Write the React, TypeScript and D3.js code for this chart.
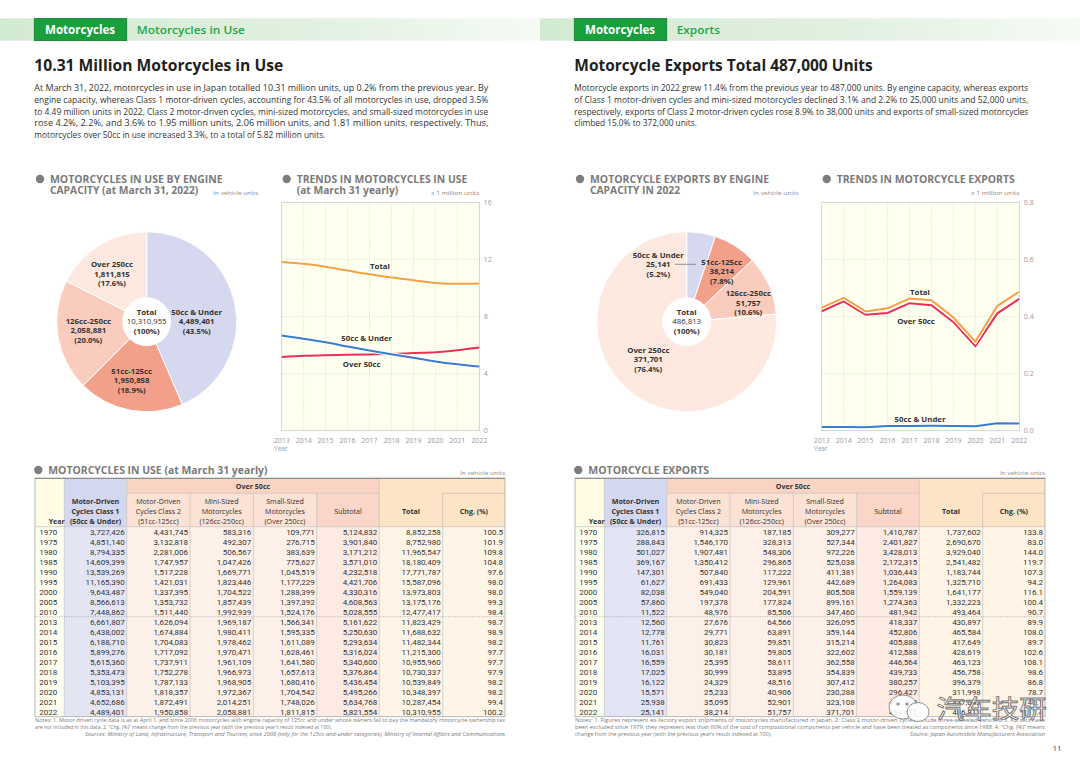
import * as d3 from "d3";

const FONT = "'Open Sans', 'Noto Sans', sans-serif";
const NUM_FONT = "'Liberation Sans Narrow', 'Roboto', 'Open Sans', sans-serif";

// ---- data ----
const tableYears = [1970, 1975, 1980, 1985, 1990, 1995, 2000, 2005, 2010, 2013, 2014, 2015, 2016, 2017, 2018, 2019, 2020, 2021, 2022];

const useClass1 = [3727426, 4851140, 8794335, 14609399, 13539269, 11165390, 9643487, 8566613, 7448862, 6661807, 6438002, 6188710, 5899276, 5615360, 5353473, 5103395, 4853131, 4652686, 4489401];
const useClass2 = [4431745, 3132818, 2281006, 1747957, 1517228, 1421031, 1337395, 1353732, 1511440, 1626094, 1674884, 1704083, 1717092, 1737911, 1752278, 1787133, 1818357, 1872491, 1950858];
const useMini = [583316, 492307, 506567, 1047426, 1669771, 1823446, 1704522, 1857439, 1992939, 1969187, 1980411, 1978462, 1970471, 1961109, 1966973, 1968905, 1972367, 2014251, 2058881];
const useSmall = [109771, 276715, 383639, 775627, 1045519, 1177229, 1288399, 1397392, 1524176, 1566341, 1595335, 1611089, 1628461, 1641580, 1657613, 1680416, 1704542, 1748026, 1811815];
const useSubtotal = [5124832, 3901840, 3171212, 3571010, 4232518, 4421706, 4330316, 4608563, 5028555, 5161622, 5250630, 5293634, 5316024, 5340600, 5376864, 5436454, 5495266, 5634768, 5821554];
const useTotal = [8852258, 8752980, 11965547, 18180409, 17771787, 15587096, 13973803, 13175176, 12477417, 11823429, 11688632, 11482344, 11215300, 10955960, 10730337, 10539849, 10348397, 10287454, 10310955];
const useChg = [100.5, 101.9, 109.8, 104.8, 97.6, 98.0, 98.0, 99.3, 98.4, 98.7, 98.9, 98.2, 97.7, 97.7, 97.9, 98.2, 98.2, 99.4, 100.2];

const expClass1 = [326815, 288843, 501027, 369167, 147301, 61627, 82038, 57860, 11522, 12560, 12778, 11761, 16031, 16559, 17025, 16122, 15571, 25938, 25141];
const expClass2 = [914325, 1546170, 1907481, 1350412, 507840, 691433, 549040, 197378, 48976, 27676, 29771, 30823, 30181, 25395, 30999, 24329, 25233, 35095, 38214];
const expMini = [187185, 328313, 548306, 296865, 117222, 129961, 204591, 177824, 85506, 64566, 63891, 59851, 59805, 58611, 53895, 48516, 40906, 52901, 51757];
const expSmall = [309277, 527344, 972226, 525038, 411381, 442689, 805508, 899161, 347460, 326095, 359144, 315214, 322602, 362558, 354839, 307412, 230288, 323108, 371701];
const expSubtotal = [1410787, 2401827, 3428013, 2172315, 1036443, 1264083, 1559139, 1274363, 481942, 418337, 452806, 405888, 412588, 446564, 439733, 380257, 296427, 411104, 461672];
const expTotal = [1737602, 2690670, 3929040, 2541482, 1183744, 1325710, 1641177, 1332223, 493464, 430897, 465584, 417649, 428619, 463123, 456758, 396379, 311998, 437042, 486813];
const expChg = [133.8, 83.0, 144.0, 119.7, 107.3, 94.2, 116.1, 100.4, 90.7, 89.9, 108.0, 89.7, 102.6, 108.1, 98.6, 86.8, 78.7, 140.1, 111.4];

const trendYears = tableYears.slice(9);
const pieCategories = ["50cc & Under", "51cc-125cc", "126cc-250cc", "Over 250cc"];
const pieColors = ["#d5d8ef", "#f2a08a", "#f9ccbe", "#fde9df"];
const useTicks = [0, 4, 8, 12, 16];
const expTicks = [0, 0.2, 0.4, 0.6, 0.8];

const leftText = [
  "At March 31, 2022, motorcycles in use in Japan totalled 10.31 million units, up 0.2% from the previous year.  By",
  "engine capacity, whereas Class 1 motor-driven cycles, accounting for 43.5% of all motorcycles in use, dropped 3.5%",
  "to 4.49 million units in 2022, Class 2 motor-driven cycles, mini-sized motorcycles, and small-sized motorcycles in use",
  "rose 4.2%, 2.2%, and 3.6% to 1.95 million units, 2.06 million units, and 1.81 million units, respectively.  Thus,",
  "motorcycles over 50cc in use increased 3.3%, to a total of 5.82 million units.",
];
const rightText = [
  "Motorcycle exports in 2022 grew 11.4% from the previous year to 487,000 units.  By engine capacity, whereas exports",
  "of Class 1 motor-driven cycles and mini-sized motorcycles declined 3.1% and 2.2% to 25,000 units and 52,000 units,",
  "respectively, exports of Class 2 motor-driven cycles rose 8.9% to 38,000 units and exports of small-sized motorcycles",
  "climbed 15.0% to 372,000 units.",
];

const fmt = d3.format(",");
const fmt1 = d3.format(".1f");

function Header({ x0, sub, subLen }: { x0: number; sub: string; subLen: number }) {
  return (
    <g>
      <rect x={x0} y={18.3} width={540} height={22.4} fill={`url(#band${x0})`} />
      <linearGradient id={`band${x0}`} x1="0" x2="1" y1="0" y2="0">
        <stop offset="0" stopColor="#d3ead2" />
        <stop offset="0.6" stopColor="#e2f1e1" />
        <stop offset="1" stopColor="#f6fbf5" />
      </linearGradient>
      <rect x={x0 + 34.3} y={18.6} width={92.4} height={22} fill="#17a03c" stroke="#0e7c2c" strokeWidth={0.8} />
      <text x={x0 + 45} y={33.8} fill="#fff" fontFamily={FONT} fontWeight={700} fontSize={11.5} textLength={70} lengthAdjust="spacingAndGlyphs">Motorcycles</text>
      <text x={x0 + 136.7} y={33.8} fill="#1fa547" fontFamily={FONT} fontWeight={600} fontSize={11.5} textLength={subLen} lengthAdjust="spacingAndGlyphs">{sub}</text>
    </g>
  );
}

function Paragraph({ x, lines, lastLen }: { x: number; lines: string[]; lastLen: number }) {
  return (
    <g fontFamily={FONT} fontSize={8.1} fill="#333">
      {lines.map((l, i) => (
        <text key={i} x={x} y={91 + i * 11.8} textLength={i === lines.length - 1 ? lastLen : 454} lengthAdjust="spacingAndGlyphs">{l}</text>
      ))}
    </g>
  );
}

function SectionTitle({ x, y, lines, lens, note, noteX, noteY, noteLen }: any) {
  return (
    <g>
      <circle cx={x} cy={y - 3.6} r={4.2} fill="#7d7d7d" />
      {lines.map((l: string, i: number) => (
        <text key={i} x={x + 10} y={y + i * 11.3} fontFamily={FONT} fontWeight={700} fontSize={10} fill="#7a7a7a" textLength={lens[i]} lengthAdjust="spacingAndGlyphs">{l}</text>
      ))}
      {note && (
        <text x={noteX} y={noteY} fontFamily={FONT} fontSize={5.6} fill="#888" textLength={noteLen} lengthAdjust="spacingAndGlyphs">{note}</text>
      )}
    </g>
  );
}

type LabelPos = { x: number; y: number };

function Pie({ cx, cy, values, pos, totalPos, leader }: { cx: number; cy: number; values: number[]; pos: LabelPos[]; totalPos: LabelPos; leader?: number[] }) {
  const total = d3.sum(values);
  const arcs = d3.pie<number>().sort(null).value((d) => d)(values);
  const arc = d3.arc<d3.PieArcDatum<number>>().innerRadius(24).outerRadius(90);
  const lh = 9.6;
  return (
    <g>
      <g transform={`translate(${cx},${cy})`}>
        {arcs.map((a, i) => (
          <path key={i} d={arc(a) || ""} fill={pieColors[i]} stroke="#fff" strokeWidth={1} />
        ))}
      </g>
      {leader && <line x1={leader[0]} y1={leader[1]} x2={leader[2]} y2={leader[3]} stroke="#777" strokeWidth={0.8} />}
      <g fontFamily={FONT} fontSize={7.8} fill="#333" textAnchor="middle" fontWeight={700}>
        {values.map((v, i) => (
          <g key={i}>
            <text x={pos[i].x} y={pos[i].y + 2.8}>{pieCategories[i]}</text>
            <text x={pos[i].x} y={pos[i].y + 2.8 + lh}>{fmt(v)}</text>
            <text x={pos[i].x} y={pos[i].y + 2.8 + 2 * lh}>({fmt1((v / total) * 100)}%)</text>
          </g>
        ))}
        <text x={totalPos.x} y={totalPos.y + 2.8}>Total</text>
        <text x={totalPos.x} y={totalPos.y + 2.8 + lh} fontWeight={400}>{fmt(total)}</text>
        <text x={totalPos.x} y={totalPos.y + 2.8 + 2 * lh}>(100%)</text>
      </g>
    </g>
  );
}

type Series = { name: string; values: number[]; color: string; lx: number; ly: number };

function Trend({ x0, x1, ticks, series, curve, tickFmt }: { x0: number; x1: number; ticks: number[]; series: Series[]; curve: d3.CurveFactory; tickFmt: (v: number) => string }) {
  const yTop = 202.3;
  const yBot = 430.7;
  const x = d3.scaleLinear().domain([trendYears[0], trendYears[trendYears.length - 1]]).range([x0, x1]);
  const y = d3.scaleLinear().domain([ticks[0], ticks[ticks.length - 1]]).range([yBot, yTop]);
  const line = d3
    .line<number>()
    .x((_d, i) => x(trendYears[i]))
    .y((d) => y(d))
    .curve(curve);
  return (
    <g>
      <rect x={x0} y={yTop} width={x1 - x0} height={yBot - yTop} fill="#fffff0" stroke="#c4c4c4" strokeWidth={0.7} />
      {trendYears.slice(1, -1).map((yr) => (
        <line key={yr} x1={x(yr)} x2={x(yr)} y1={yTop} y2={yBot} stroke="#b8b8b8" strokeWidth={0.5} strokeDasharray="1,1.5" />
      ))}
      {ticks.slice(1, -1).map((t) => (
        <line key={t} x1={x0} x2={x1} y1={y(t)} y2={y(t)} stroke="#b8b8b8" strokeWidth={0.5} strokeDasharray="1,1.5" />
      ))}
      {ticks.map((t) => (
        <text key={t} x={x1 + 4.5} y={y(t) + 2.4} fontFamily={FONT} fontSize={7} fill="#9a9a9a">{tickFmt(t)}</text>
      ))}
      {trendYears.map((yr) => (
        <text key={yr} x={x(yr)} y={443} textAnchor="middle" fontFamily={FONT} fontSize={7} fill="#9a9a9a">{yr}</text>
      ))}
      <text x={x0 - 7.7} y={451} fontFamily={FONT} fontSize={6.5} fill="#9a9a9a">Year</text>
      {series.map((s) => (
        <g key={s.name}>
          <path d={line(s.values) || ""} fill="none" stroke="#fff" strokeWidth={4} />
          <path d={line(s.values) || ""} fill="none" stroke={s.color} strokeWidth={2} />
        </g>
      ))}
      {series.map((s) => (
        <text key={s.name} x={s.lx} y={s.ly + 2.7} textAnchor="middle" fontFamily={FONT} fontWeight={700} fontSize={7.8} fill="#333">{s.name}</text>
      ))}
    </g>
  );
}

function DataTable({ x0, cols }: { x0: number; cols: number[][] }) {
  const edges = [35, 64.3, 126.7, 190, 253.3, 316.7, 379.3, 442.7, 505].map((e) => e + x0);
  const top = 478.3;
  const mid = 493.3;
  const hb = 526.7;
  const rowH = 10;
  const bottom = hb + tableYears.length * rowH;
  const rowY = d3.scaleLinear().domain([0, tableYears.length]).range([hb, bottom]);
  const bodyFills = ["#fffff0", "#e3e5f4", "#fdf0e9", "#fdf0e9", "#fdf0e9", "#fdeae2", "#fff5e7", "#fff5e7"];
  const headLines = [
    ["Motor-Driven", "Cycles Class 1", "(50cc & Under)"],
    ["Motor-Driven", "Cycles Class 2", "(51cc-125cc)"],
    ["Mini-Sized", "Motorcycles", "(126cc-250cc)"],
    ["Small-Sized", "Motorcycles", "(Over 250cc)"],
  ];
  const hy = [504.3, 514.1, 523.6];
  return (
    <g>
      {/* body fills */}
      {bodyFills.map((f, i) => (
        <rect key={i} x={edges[i]} y={hb} width={edges[i + 1] - edges[i]} height={bottom - hb} fill={f} />
      ))}
      {/* header fills */}
      <rect x={edges[0]} y={top} width={edges[1] - edges[0]} height={hb - top} fill="#fffbe4" />
      <rect x={edges[1]} y={top} width={edges[2] - edges[1]} height={hb - top} fill="#d3d7ef" />
      <rect x={edges[2]} y={top} width={edges[6] - edges[2]} height={mid - top} fill="#f9d3c3" />
      <rect x={edges[2]} y={mid} width={edges[5] - edges[2]} height={hb - mid} fill="#fce1d5" />
      <rect x={edges[5]} y={mid} width={edges[6] - edges[5]} height={hb - mid} fill="#fad6c8" />
      <rect x={edges[6]} y={top} width={edges[8] - edges[6]} height={hb - top} fill="#fde4c6" />
      {/* grid */}
      <g stroke="#b9b9b9" strokeWidth={0.6}>
        <line x1={edges[2]} x2={edges[6]} y1={mid} y2={mid} />
        <line x1={edges[7]} x2={edges[8]} y1={mid} y2={mid} />
        <line x1={edges[0]} x2={edges[8]} y1={hb} y2={hb} />
        {edges.slice(1, -1).map((e, i) => {
          const idx = i + 1;
          const startMid = idx === 3 || idx === 4 || idx === 5 || idx === 7;
          return <line key={idx} x1={e} x2={e} y1={startMid ? mid : top} y2={bottom} />;
        })}
        <line x1={edges[0]} x2={edges[8]} y1={rowY(9)} y2={rowY(9)} strokeDasharray="1.2,1.2" stroke="#999" />
      </g>
      <rect x={edges[0]} y={top} width={edges[8] - edges[0]} height={bottom - top} fill="none" stroke="#a8a8a8" strokeWidth={0.8} />
      <line x1={edges[0]} x2={edges[8]} y1={top} y2={top} stroke="#8f8f8f" strokeWidth={1.2} />
      {/* header text */}
      <g fontFamily={FONT} fontSize={7.1} fill="#333" textAnchor="middle">
        <text x={(edges[2] + edges[6]) / 2} y={488.6} fontWeight={700}>Over 50cc</text>
        <text x={edges[0] + 21.7} y={hy[2]} fontWeight={700}>Year</text>
        {headLines.map((hl, i) =>
          hl.map((t, j) => (
            <text key={`${i}-${j}`} x={(edges[i + 1] + edges[i + 2]) / 2} y={hy[j]} fontWeight={i === 0 ? 700 : 400}>{t}</text>
          ))
        )}
        <text x={(edges[5] + edges[6]) / 2} y={514.1}>Subtotal</text>
        <text x={(edges[6] + edges[7]) / 2} y={514.1} fontWeight={700}>Total</text>
        <text x={(edges[7] + edges[8]) / 2} y={514.1} fontWeight={700}>Chg. (%)</text>
      </g>
      {/* body text */}
      <g fontFamily={NUM_FONT} fontSize={8} fill="#333">
        {tableYears.map((yr, r) => {
          const by = rowY(r) + rowH / 2 + 2.9;
          return (
            <g key={yr}>
              <text x={(edges[0] + edges[1]) / 2 - 1.5} y={by} textAnchor="middle">{yr}</text>
              {cols.map((c, ci) => (
                <text key={ci} x={edges[ci + 2] - 2} y={by} textAnchor="end">{ci === 6 ? fmt1(c[r]) : fmt(c[r])}</text>
              ))}
            </g>
          );
        })}
      </g>
    </g>
  );
}

export default function App() {
  const useCols = [useClass1, useClass2, useMini, useSmall, useSubtotal, useTotal, useChg];
  const expCols = [expClass1, expClass2, expMini, expSmall, expSubtotal, expTotal, expChg];
  const last = tableYears.length - 1;
  const toM = (a: number[]) => a.slice(9).map((v) => v / 1e6);
  return (
    <svg width={1080} height={764} viewBox="0 0 1080 764" style={{ position: "absolute", left: 0, top: 0, background: "#fff" }}>
      <rect width={1080} height={764} fill="#fff" />
      <Header x0={0} sub="Motorcycles in Use" subLen={108.3} />
      <Header x0={540} sub="Exports" subLen={43.3} />

      <text x={34.3} y={70.5} fontFamily={FONT} fontWeight={700} fontSize={16.5} fill="#231f20" textLength={249} lengthAdjust="spacingAndGlyphs">10.31 Million Motorcycles in Use</text>
      <text x={574.3} y={70.5} fontFamily={FONT} fontWeight={700} fontSize={16.5} fill="#231f20" textLength={298.4} lengthAdjust="spacingAndGlyphs">Motorcycle Exports Total 487,000 Units</text>

      <Paragraph x={34.3} lines={leftText} lastLen={291} />
      <Paragraph x={574.3} lines={rightText} lastLen={122.7} />

      <SectionTitle x={40} y={182.6} lines={["MOTORCYCLES IN USE BY ENGINE", "CAPACITY (at March 31, 2022)"]} lens={[172.7, 148.3]} note="In vehicle units" noteX={213.3} noteY={194.6} noteLen={45} />
      <SectionTitle x={286.7} y={182.6} lines={["TRENDS IN MOTORCYCLES IN USE", "(at March 31 yearly)"]} lens={[170.6, 101.6]} note="x 1 million units" noteX={431} noteY={194.6} noteLen={48.3} />
      <SectionTitle x={580} y={182.6} lines={["MOTORCYCLE EXPORTS BY ENGINE", "CAPACITY IN 2022"]} lens={[179, 90]} note="In vehicle units" noteX={753.3} noteY={194.6} noteLen={45} />
      <SectionTitle x={826.7} y={182.6} lines={["TRENDS IN MOTORCYCLE EXPORTS"]} lens={[178]} note="x 1 million units" noteX={971} noteY={194.6} noteLen={48.3} />

      <Pie
        cx={146.7}
        cy={321.7}
        values={[useClass1[last], useClass2[last], useMini[last], useSmall[last]]}
        pos={[{ x: 196.7, y: 311.7 }, { x: 131.7, y: 371 }, { x: 88.3, y: 321 }, { x: 112, y: 264.3 }]}
        totalPos={{ x: 146.7, y: 311.7 }}
      />
      <Pie
        cx={686.7}
        cy={321.7}
        values={[expClass1[last], expClass2[last], expMini[last], expSmall[last]]}
        pos={[{ x: 658.3, y: 255 }, { x: 721.7, y: 261.7 }, { x: 748.3, y: 293.3 }, { x: 648.3, y: 350 }]}
        totalPos={{ x: 686.7, y: 311.7 }}
        leader={[675, 264.3, 696, 264.3]}
      />

      <Trend
        x0={281.7}
        x1={479.3}
        ticks={useTicks}
        curve={d3.curveMonotoneX}
        tickFmt={(v) => String(v)}
        series={[
          { name: "Total", values: toM(useTotal), color: "#f6a13b", lx: 380, ly: 266.7 },
          { name: "Over 50cc", values: toM(useSubtotal), color: "#e8334f", lx: 361.7, ly: 364 },
          { name: "50cc & Under", values: toM(useClass1), color: "#3a7bd0", lx: 366.7, ly: 338 },
        ]}
      />
      <Trend
        x0={821.7}
        x1={1019.3}
        ticks={expTicks}
        curve={d3.curveLinear}
        tickFmt={(v) => fmt1(v)}
        series={[
          { name: "50cc & Under", values: toM(expClass1), color: "#3a7bd0", lx: 920, ly: 419 },
          { name: "Over 50cc", values: toM(expSubtotal), color: "#e8334f", lx: 916, ly: 321.7 },
          { name: "Total", values: toM(expTotal), color: "#f6a13b", lx: 920, ly: 292.3 },
        ]}
      />

      <SectionTitle x={38.3} y={473.6} lines={["MOTORCYCLES IN USE (at March 31 yearly)"]} lens={[219.3]} note="In vehicle units" noteX={460} noteY={475} noteLen={45} />
      <SectionTitle x={578.3} y={473.6} lines={["MOTORCYCLE EXPORTS"]} lens={[120.7]} note="In vehicle units" noteX={1000} noteY={475} noteLen={45} />

      <DataTable x0={0} cols={useCols} />
      <DataTable x0={540} cols={expCols} />

      <g fontFamily={FONT} fontSize={5.3} fill="#7a7a7a">
        <text x={35} y={722} textLength={470} lengthAdjust="spacingAndGlyphs">Notes:  1. Motor-driven cycle data is as at April 1, and since 2006 motorcycles with engine capacity of 125cc and under whose owners fail to pay the mandatory motorcycle ownership tax</text>
        <text x={35} y={728.6} textLength={297} lengthAdjust="spacingAndGlyphs">are not included in this data.  2. “Chg. (%)” means change from the previous year (with the previous year’s result indexed at 100).</text>
        <text x={85} y={735.6} fontStyle="italic" textLength={420} lengthAdjust="spacingAndGlyphs">Sources: Ministry of Land, Infrastructure, Transport and Tourism; since 2006 (only for the 125cc-and-under categories), Ministry of Internal Affairs and Communications</text>
        <text x={575} y={722} textLength={470} lengthAdjust="spacingAndGlyphs">Notes:  1. Figures represent ex-factory export shipments of motorcycles manufactured in Japan.  2. Class 2 motor-driven cycles include three-wheeled vehicles.  3. KD sets have</text>
        <text x={575} y={728.6} textLength={470} lengthAdjust="spacingAndGlyphs">been excluded since 1979; they represent less than 60% of the cost of compositional components per vehicle and have been treated as components since 1988.  4. “Chg. (%)” means</text>
        <text x={575} y={735.6} textLength={196.7} lengthAdjust="spacingAndGlyphs">change from the previous year (with the previous year’s result indexed at 100).</text>
        <text x={910} y={735.6} fontStyle="italic" textLength={135} lengthAdjust="spacingAndGlyphs">Source: Japan Automobile Manufacturers Association</text>
      </g>

      {/* watermark */}
      <g opacity={0.9}>
        <ellipse cx={903} cy={707} rx={14} ry={12} fill="#fff" stroke="#8a8a8a" strokeWidth={1} />
        <ellipse cx={918} cy={712} rx={11} ry={9.5} fill="#fff" stroke="#8a8a8a" strokeWidth={1} />
        <circle cx={898} cy={704} r={1.6} fill="#8a8a8a" />
        <circle cx={907} cy={704} r={1.6} fill="#8a8a8a" />
        <text x={936.7} y={718} fontFamily="'Noto Sans CJK SC', sans-serif" fontSize={25} fill="#fff" stroke="#6a6a6a" strokeWidth={0.9} textLength={110} lengthAdjust="spacingAndGlyphs">汽车技研</text>
      </g>

      <text x={1057} y={751} fontFamily={FONT} fontSize={8} fill="#444" textAnchor="middle">11</text>
    </svg>
  );
}
